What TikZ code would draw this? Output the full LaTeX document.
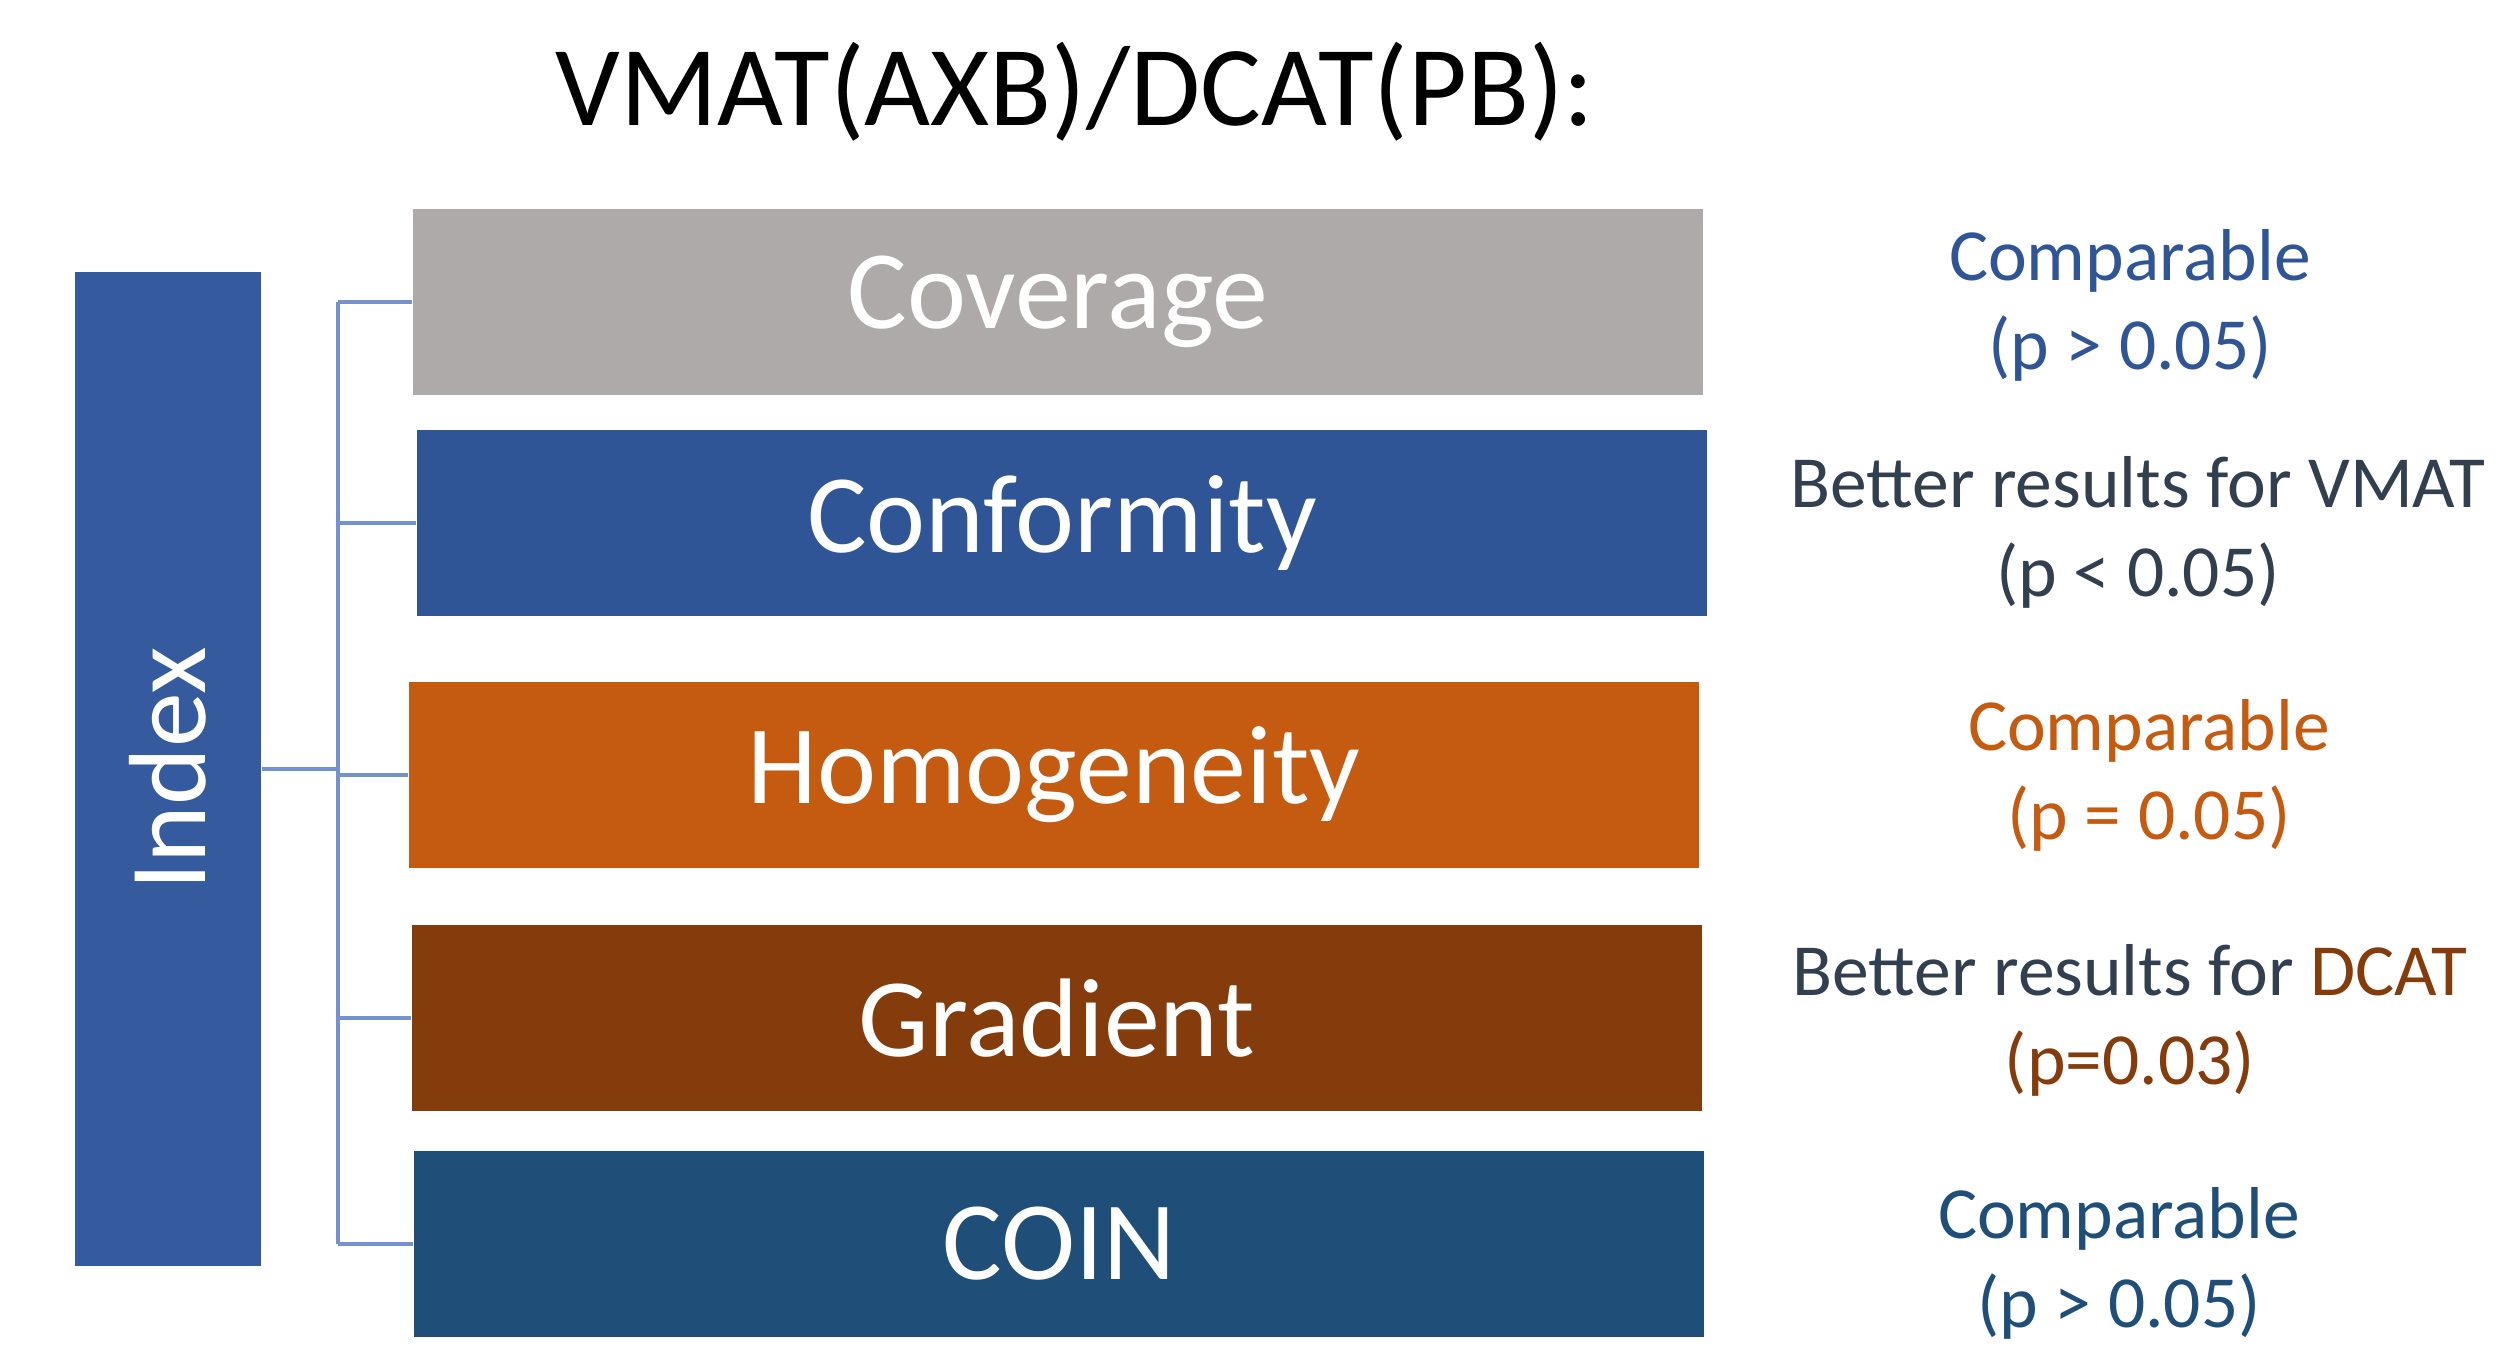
\documentclass[tikz,border=0pt]{standalone}
\usepackage{fontspec}
\setmainfont{Carlito}
\usepackage{tikz}

\definecolor{covgray}{HTML}{AEAAAA}
\definecolor{confblue}{HTML}{2F5597}
\definecolor{idxblue}{HTML}{355A9D}
\definecolor{homoorange}{HTML}{C55A11}
\definecolor{gradbrown}{HTML}{843C0C}
\definecolor{coinblue}{HTML}{1F4E79}
\definecolor{darktext}{HTML}{323F4F}
\definecolor{brkblue}{HTML}{7592D0}

\begin{document}
\begin{tikzpicture}[x=0.01cm,y=-0.01cm,
    box/.style={rectangle,fill=#1,text=white,inner sep=0pt,
      minimum width=12.9cm,minimum height=1.85cm,
      font=\fontsize{31.8}{38}\selectfont},
    res/.style={align=center,text=#1,inner sep=0pt,
      font=\fontsize{20.9}{25.3}\selectfont},
    brk/.style={draw=brkblue,line width=0.9pt}]
    \useasboundingbox (0,0) rectangle (2496,1348);
    \node (title) at (1075,92) {\fontsize{32.4}{39}\selectfont VMAT(AXB)/DCAT(PB):};
    \node [fill=idxblue,text=white,inner sep=0pt,minimum width=1.86cm,minimum height=9.94cm,
      font=\fontsize{31.2}{37}\selectfont] (idx) at (168,769) {\rotatebox{90}{Index}};
    \node [box=covgray] (cov) at (1058,302) {Coverage};
    \node [box=confblue] (conf) at (1062,523) {Conformity};
    \node [box=homoorange] (homo) at (1054,775) {Homogeneity};
    \node [box=gradbrown] (grad) at (1057,1018) {Gradient};
    \node [box=coinblue] (coin) at (1059,1244) {COIN};
    \node [res=confblue] (r1) at (2130,305) {Comparable\\(p > 0.05)};
    \node [res=darktext] (r2) at (2138,532) {Better results for VMAT\\(p < 0.05)};
    \node [res=homoorange] (r3) at (2149,775) {Comparable\\(p = 0.05)};
    \node [res=darktext] (r4) at (2130,1020) {Better results for \textcolor{gradbrown}{DCAT}\\\textcolor{gradbrown}{(p=0.03)}};
    \node [res=coinblue] (r5) at (2119,1263) {Comparable\\(p > 0.05)};
    % bracket
    \coordinate (hub) at (338,769);
    \draw [brk] (idx.east) -- (hub);
    \draw [brk] (hub |- cov.west) -- (hub |- coin.west);
    \foreach \b in {cov,conf,homo,grad,coin}
      \draw [brk] (hub |- \b.west) -- (\b.west);
\end{tikzpicture}
\end{document}
